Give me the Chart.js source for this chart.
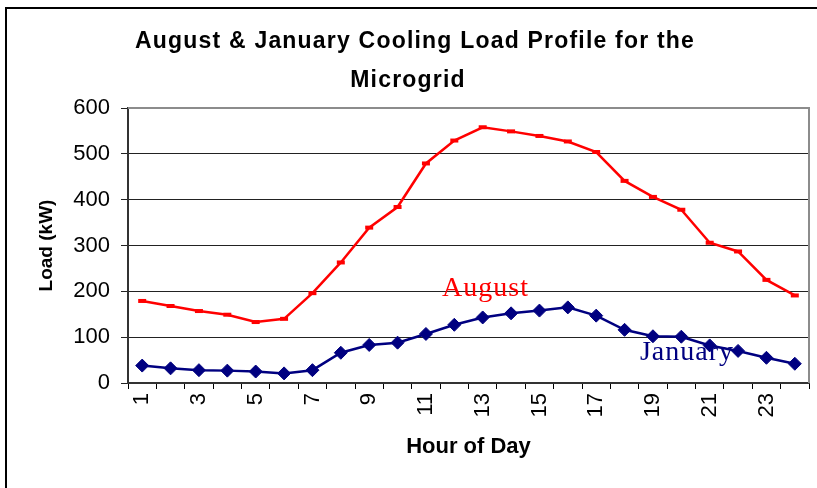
<!DOCTYPE html>
<html>
<head>
<meta charset="utf-8">
<script src="https://cdn.jsdelivr.net/npm/chart.js@4"></script>
<style>
  html, body { margin: 0; padding: 0; background: #fff; overflow: hidden; }
  #wrap { position: relative; width: 817px; height: 488px; }
  #frame { position: absolute; left: 5px; top: 7px; width: 900px; height: 600px; border: 2px solid #000; }
  canvas { position: absolute; left: 0; top: 0; }
</style>
</head>
<body>
<div id="wrap">
  <div id="frame"></div>
  <canvas id="chart" width="817" height="488"></canvas>
</div>
<script>
const hours = ["1","2","3","4","5","6","7","8","9","10","11","12","13","14","15","16","17","18","19","20","21","22","23","24"];
const augustLoad = [179, 168, 157, 149, 133, 140, 196, 263, 339, 384, 479, 529, 558, 549, 539, 527, 504, 441, 406, 378, 306, 287, 225, 191];
const januaryLoad = [38, 32, 28, 27, 25, 21, 28, 66, 83, 88, 107, 127, 143, 152, 158, 165, 147, 116, 102, 101, 82, 70, 55, 42];
const yTicks = [0, 100, 200, 300, 400, 500, 600];
const titleLines = ["August & January Cooling Load Profile for the", "Microgrid"];

// series names written inside the plot, next to their lines
const seriesLabels = [
  { text: "August", color: "#ff0000", hour: 13.1, value: 205 },
  { text: "January", color: "#000080", hour: 20.2, value: 66 }
];

const SANS = "'Liberation Sans', Arial, sans-serif";

const frameAndLabels = {
  id: "frameAndLabels",
  beforeDatasetsDraw(chart) {
    const { ctx, chartArea: a } = chart;
    ctx.save();
    ctx.strokeStyle = "#8c8c8c";
    ctx.lineWidth = 2;
    ctx.beginPath();
    ctx.moveTo(a.left, a.top);
    ctx.lineTo(a.right, a.top);
    ctx.lineTo(a.right, a.bottom);
    ctx.stroke();
    ctx.restore();
  },
  afterDatasetsDraw(chart) {
    const { ctx, scales } = chart;
    ctx.save();
    ctx.font = "28px 'Liberation Serif', 'Times New Roman', serif";
    ctx.letterSpacing = "1px";
    ctx.textAlign = "center";
    ctx.textBaseline = "middle";
    seriesLabels.forEach(l => {
      const x = scales.x.getPixelForValue(l.hour - 1);
      const y = scales.y.getPixelForValue(l.value);
      ctx.fillStyle = l.color;
      ctx.fillText(l.text, x, y);
    });
    ctx.restore();
  },
  afterDraw(chart) {
    // wide-set bold title, as in the original picture
    const { ctx } = chart;
    ctx.save();
    ctx.font = "bold 23px " + SANS;
    ctx.letterSpacing = "1.2px";
    ctx.fillStyle = "#000";
    ctx.textAlign = "center";
    ctx.textBaseline = "alphabetic";
    ctx.fillText(titleLines[0], 415, 48);
    ctx.fillText(titleLines[1], 408, 87);
    ctx.restore();
  }
};

new Chart(document.getElementById("chart").getContext("2d"), {
  type: "line",
  data: {
    labels: hours,
    datasets: [
      {
        label: "August",
        data: augustLoad,
        borderColor: "#ff0000",
        backgroundColor: "#ff0000",
        borderWidth: 2.5,
        pointStyle: "line",
        pointRadius: 4,
        pointBorderWidth: 4,
        tension: 0
      },
      {
        label: "January",
        data: januaryLoad,
        borderColor: "#000080",
        backgroundColor: "#000080",
        borderWidth: 2.5,
        pointStyle: "rectRot",
        pointRadius: 6.5,
        pointBorderWidth: 1,
        tension: 0
      }
    ]
  },
  options: {
    responsive: false,
    animation: false,
    layout: { padding: { left: 20, right: 8, top: 108, bottom: 28 } },
    plugins: {
      legend: { display: false },
      tooltip: { enabled: false },
      title: { display: false }
    },
    scales: {
      x: {
        type: "category",
        offset: true,
        grid: { offset: true, drawOnChartArea: false, drawTicks: true, tickLength: 6, color: "#000", lineWidth: 1 },
        border: { display: true, color: "#333", width: 2 },
        ticks: {
          autoSkip: false,
          maxRotation: 90,
          minRotation: 90,
          padding: 4,
          color: "#000",
          font: { family: SANS, size: 22 },
          callback: (v, i) => (i % 2 === 0 ? hours[i] : "")
        },
        title: {
          display: true,
          text: "Hour of Day",
          color: "#000",
          font: { family: SANS, size: 22, weight: "bold" },
          padding: { top: 0, bottom: 0 }
        },
        afterFit: s => { s.height = 77; s.paddingLeft = 0; s.paddingRight = 0; }
      },
      y: {
        min: 0,
        max: 600,
        afterBuildTicks: s => { s.ticks = yTicks.map(v => ({ value: v })); },
        grid: { color: "#222", lineWidth: 1, tickLength: 7, drawTicks: true },
        border: { display: true, color: "#333", width: 2 },
        ticks: {
          padding: 11,
          color: "#000",
          font: { family: SANS, size: 22 }
        },
        title: {
          display: true,
          text: "Load (kW)",
          color: "#000",
          font: { family: SANS, size: 19, weight: "bold" },
          padding: { top: 15, bottom: 0 }
        },
        afterFit: s => { s.width = 108; s.paddingTop = 0; s.paddingBottom = 0; }
      }
    }
  },
  plugins: [frameAndLabels]
});
</script>
</body>
</html>
